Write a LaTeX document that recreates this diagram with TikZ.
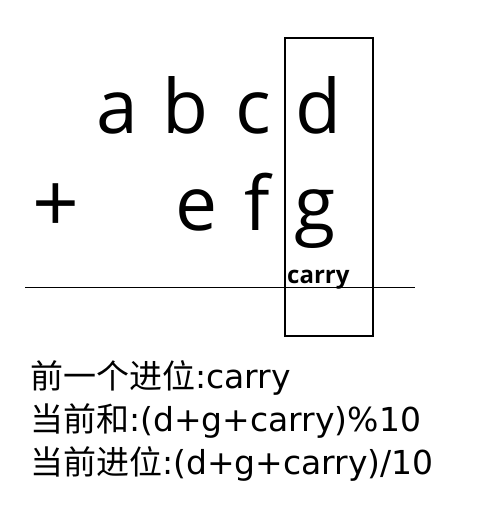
\documentclass[tikz,border=0pt]{standalone}
\usepackage{fontspec}
\setmainfont{DejaVu Sans}
\newfontfamily\cjk{Noto Sans CJK SC}
\newfontfamily\bigsans{Open Sans}
\usepackage{tikz}
\usetikzlibrary{positioning}

\begin{document}
\begin{tikzpicture}[
    x=1pt, y=-1pt,
    digit/.style={font=\bigsans\fontsize{75}{80}\selectfont, inner sep=0pt, anchor=base},
    note/.style={font=\fontsize{33}{36}\selectfont, inner sep=0pt, anchor=base west},
]
\useasboundingbox (0,0) rectangle (487,528);

% first number
\node[digit] (a) at (117, 133) {a};
\node[digit] (b) at (185, 133) {b};
\node[digit] (c) at (253, 133) {c};
\node[digit] (d) at (318, 133) {d};

% second number
\node[digit, font=\bigsans\fontsize{82}{86}\selectfont] (plus) at (56, 232) {+};
\node[digit] (e) at (197, 230) {e};
\node[digit] (f) at (257, 230) {f};
\node[digit] (g) at (315, 230) {g};

\node[font=\bigsans\bfseries\fontsize{24}{26}\selectfont, inner sep=0pt, anchor=base west]
    (carry) at (287, 283) {carry};

\draw[line width=1.2pt] (285, 38) rectangle (373, 336);
\draw (25, 287) -- (415, 287);

\node[note] (prev) at (30, 388) {{\cjk 前一个进位}:carry};
\node[note] (sum)  at (30, 431) {{\cjk 当前和}:(d+g+carry)\%10};
\node[note] (next) at (30, 474) {{\cjk 当前进位}:(d+g+carry)/10};

\end{tikzpicture}
\end{document}
